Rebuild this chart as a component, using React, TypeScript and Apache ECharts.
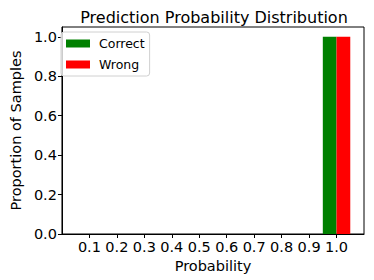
import React, { useEffect, useRef } from "react";
import * as echarts from "echarts";

const titleText = "Prediction Probability Distribution";
const xTickValues = [0.1, 0.2, 0.3, 0.4, 0.5, 0.6, 0.7, 0.8, 0.9, 1.0];
const yTickValues = [0.0, 0.2, 0.4, 0.6, 0.8, 1.0];
const correctBinStart = [0.95];
const correctBinEnd = [1.0];
const correctValues = [1.0];
const wrongBinStart = [1.0];
const wrongBinEnd = [1.05];
const wrongValues = [1.0];

const FONT = "DejaVu Sans";

function renderBar(color: string) {
  return (params: any, api: any) => {
    const p0 = api.coord([api.value(0), api.value(2)]);
    const p1 = api.coord([api.value(1), 0]);
    return {
      type: "rect",
      shape: { x: p0[0], y: p0[1], width: p1[0] - p0[0], height: p1[1] - p0[1] },
      style: { fill: color },
    };
  };
}

export default function App() {
  const ref = useRef<HTMLDivElement>(null);
  useEffect(() => {
    if (!ref.current) return;
    const chart = echarts.init(ref.current, undefined, { renderer: "svg" });
    const correctData = correctValues.map((v, i) => [correctBinStart[i], correctBinEnd[i], v]);
    const wrongData = wrongValues.map((v, i) => [wrongBinStart[i], wrongBinEnd[i], v]);
    chart.setOption({
      animation: false,
      backgroundColor: "#fff",
      title: {
        text: titleText,
        left: 209,
        textAlign: "center",
        top: 4,
        textStyle: { fontFamily: FONT, fontSize: 16, fontWeight: "normal", color: "#000" },
      },
      legend: {
        orient: "vertical",
        left: 61,
        top: 32,
        itemWidth: 24,
        itemHeight: 8,
        itemGap: 8,
        padding: [5, 5, 5, 5],
        borderColor: "#d0d0d0",
        borderWidth: 1,
        borderRadius: 3,
        backgroundColor: "rgba(255,255,255,0.8)",
        icon: "rect",
        textStyle: { fontFamily: FONT, fontSize: 12.5, color: "#000", padding: [0, 0, 0, 4] },
        data: ["Correct", "Wrong"],
      },
      grid: {
        left: 54,
        right: 10,
        top: 27,
        bottom: 46,
        show: true,
        borderColor: "#000",
        borderWidth: 1,
        backgroundColor: "transparent",
      },
      xAxis: {
        type: "value",
        min: 0,
        max: 1.1,
        name: "Probability",
        nameLocation: "middle",
        nameGap: 20,
        nameTextStyle: { fontFamily: FONT, fontSize: 14.5, color: "#000" },
        axisLine: { show: true, lineStyle: { color: "#000", width: 1 } },
        axisTick: { show: true, length: 4, customValues: xTickValues, lineStyle: { color: "#000" } },
        axisLabel: {
          customValues: xTickValues,
          margin: 5,
          fontFamily: FONT,
          fontSize: 14.5,
          color: "#000",
          formatter: (v: number) => v.toFixed(1),
        },
        splitLine: { show: false },
      },
      yAxis: {
        type: "value",
        min: 0,
        max: 1.05,
        name: "Proportion of Samples",
        nameLocation: "middle",
        nameGap: 35,
        nameRotate: 90,
        nameTextStyle: { fontFamily: FONT, fontSize: 14.5, color: "#000" },
        axisLine: { show: true, lineStyle: { color: "#000", width: 1 } },
        axisTick: { show: true, length: 4, customValues: yTickValues, lineStyle: { color: "#000" } },
        axisLabel: {
          customValues: yTickValues,
          margin: 5,
          fontFamily: FONT,
          fontSize: 14.5,
          color: "#000",
          formatter: (v: number) => v.toFixed(1),
        },
        splitLine: { show: false },
      },
      series: [
        {
          name: "Correct",
          type: "custom",
          itemStyle: { color: "#008000" },
          encode: { x: [0, 1], y: 2 },
          renderItem: renderBar("#008000"),
          data: correctData,
        },
        {
          name: "Wrong",
          type: "custom",
          itemStyle: { color: "#ff0000" },
          encode: { x: [0, 1], y: 2 },
          renderItem: renderBar("#ff0000"),
          data: wrongData,
        },
      ],
    });
    return () => chart.dispose();
  }, []);
  return <div ref={ref} style={{ width: 374, height: 280, position: "absolute", left: 0, top: 0 }} />;
}
